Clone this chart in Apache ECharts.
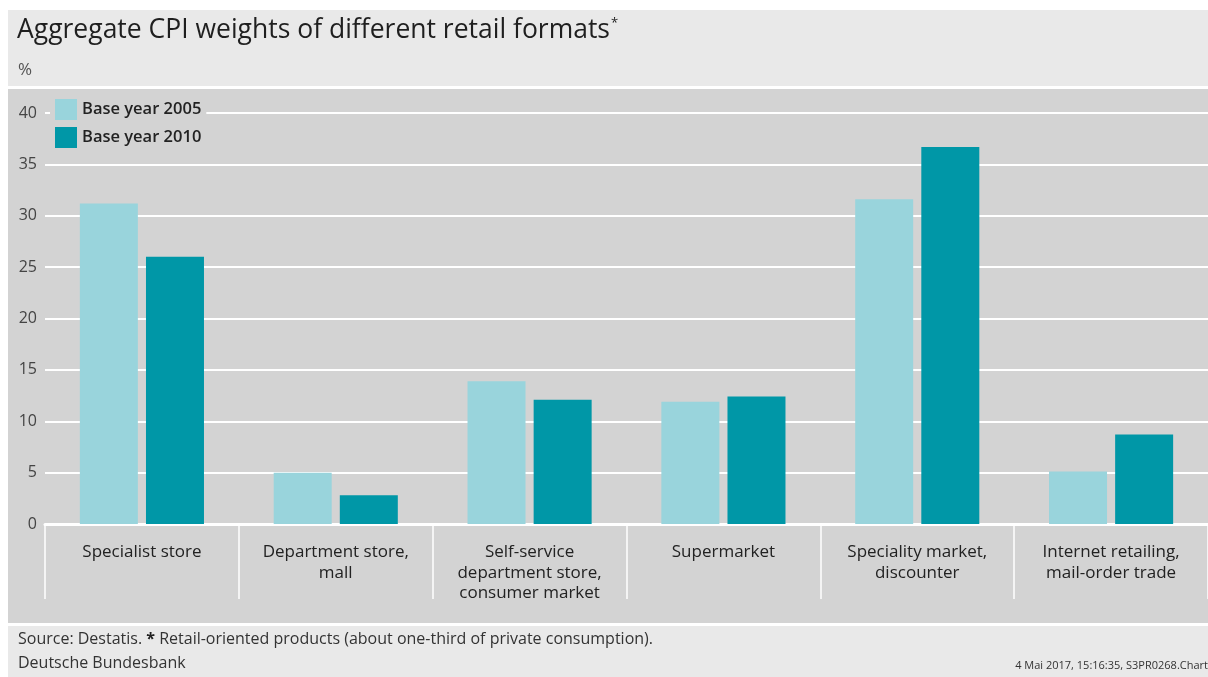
<!DOCTYPE html>
<html>
<head>
<meta charset="utf-8">
<script src="https://cdn.jsdelivr.net/npm/echarts@6/dist/echarts.min.js"></script>
<style>
  html, body { margin: 0; padding: 0; background: #fff; }
  #chart { width: 1208px; height: 677px; }
</style>
</head>
<body>
<div id="chart"></div>
<script>
// 数据
var categories = [
  'Specialist store',
  'Department store,\nmall',
  'Self-service\ndepartment store,\nconsumer market',
  'Supermarket',
  'Speciality market,\ndiscounter',
  'Internet retailing,\nmail-order trade'
];
var base2005 = [31.2, 5.0, 13.9, 11.9, 31.6, 5.1];
var base2010 = [26.0, 2.8, 12.1, 12.4, 36.7, 8.7];
var seriesNames = ['Base year 2005', 'Base year 2010'];

var chart = echarts.init(document.getElementById('chart'));
var font = '"Open Sans", "Noto Sans", sans-serif';

var option = {
  backgroundColor: '#fff',
  textStyle: { fontFamily: font },
  animation: false,
  graphic: [
    // 标题栏 / 图表区 / 页脚 背景
    { type: 'rect', z: -10, silent: true, shape: { x: 8, y: 10, width: 1200, height: 76 }, style: { fill: '#e9e9e9' } },
    { type: 'rect', z: -10, silent: true, shape: { x: 8, y: 89, width: 1200, height: 534 }, style: { fill: '#d3d3d3' } },
    { type: 'rect', z: -10, silent: true, shape: { x: 8, y: 626, width: 1200, height: 51 }, style: { fill: '#e9e9e9' } },
    {
      type: 'text', left: 17, top: 17,
      style: {
        text: '{t|Aggregate CPI weights of different retail formats}{s|*}',
        rich: {
          t: { fontSize: 26.5, fill: '#1f1f1f', fontFamily: font },
          s: { fontSize: 13, fill: '#1f1f1f', fontFamily: font, verticalAlign: 'top', padding: [0, 0, 14, 1] }
        }
      }
    },
    { type: 'text', left: 18, top: 62, style: { text: '%', fontSize: 17, fill: '#555', fontFamily: font } },
    {
      type: 'text', left: 18, top: 631,
      style: {
        text: '{n|Source: Destatis. }{b|*}{n| Retail-oriented products (about one-third of private consumption).}',
        rich: {
          n: { fontSize: 16, fill: '#333', fontFamily: font },
          b: { fontSize: 16, fill: '#222', fontWeight: 'bold', fontFamily: font }
        }
      }
    },
    { type: 'text', left: 18, top: 655, style: { text: 'Deutsche Bundesbank', fontSize: 16, fill: '#333', fontFamily: font } },
    { type: 'text', right: 0, top: 660, style: { text: '4 Mai 2017, 15:16:35, S3PR0268.Chart', fontSize: 11, fill: '#333', fontFamily: font } }
  ],
  legend: {
    data: seriesNames,
    orient: 'vertical',
    left: 50,
    top: 96,
    padding: [3, 5],
    itemWidth: 22,
    itemHeight: 21,
    itemGap: 7,
    icon: 'rect',
    backgroundColor: '#d3d3d3',
    textStyle: { fontSize: 16.5, color: '#222', fontWeight: 600, fontFamily: font }
  },
  grid: { left: 45, right: 0, top: 113, bottom: 153, containLabel: false },
  xAxis: {
    type: 'category',
    data: categories,
    boundaryGap: true,
    axisLine: { lineStyle: { color: '#fff', width: 3 } },
    axisTick: { show: true, length: 75, interval: 0, lineStyle: { color: '#fff', width: 1.5 } },
    axisLabel: {
      interval: 0, margin: 18, fontSize: 17, lineHeight: 20.5, color: '#222', fontFamily: font
    }
  },
  yAxis: {
    type: 'value',
    min: 0,
    max: 40,
    interval: 5,
    axisLine: { show: false },
    axisTick: { show: false },
    axisLabel: { fontSize: 16, color: '#444', margin: 8, fontFamily: font },
    splitLine: { lineStyle: { color: '#fff', width: 2 } }
  },
  series: [
    {
      name: seriesNames[0], type: 'bar', data: base2005,
      barWidth: 58, barGap: '14%',
      itemStyle: { color: '#99d4dc' }
    },
    {
      name: seriesNames[1], type: 'bar', data: base2010,
      barWidth: 58, barGap: '14%',
      itemStyle: { color: '#0097a7' }
    }
  ]
};
chart.setOption(option);
</script>
</body>
</html>
